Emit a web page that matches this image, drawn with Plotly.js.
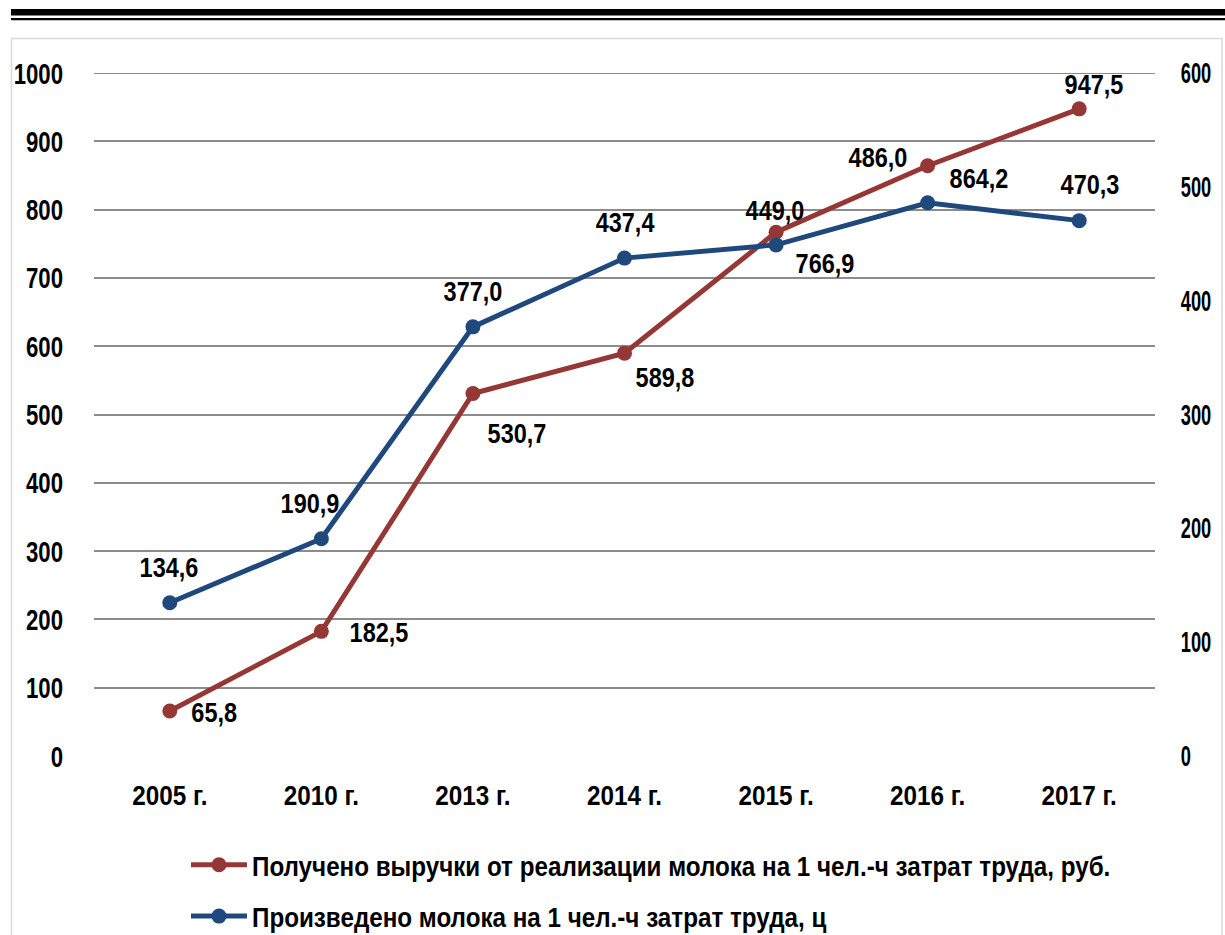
<!DOCTYPE html>
<html><head><meta charset="utf-8">
<script src="https://cdn.plot.ly/plotly-3.0.1.min.js"></script>
<style>html,body{margin:0;padding:0;background:#fff}#chart{width:1225px;height:935px}</style>
</head><body><div id="chart"></div>
<script>
const categories = ['2005 г.','2010 г.','2013 г.','2014 г.','2015 г.','2016 г.','2017 г.'];
const revenueValues = [65.8, 182.5, 530.7, 589.8, 766.9, 864.2, 947.5];
const milkValues = [134.6, 190.9, 377.0, 437.4, 449.0, 486.0, 470.3];
const revenueName = 'Получено выручки от реализации молока на 1 чел.-ч затрат труда, руб.';
const milkName = 'Произведено молока на 1 чел.-ч затрат труда, ц';
const leftTicks = [0,100,200,300,400,500,600,700,800,900,1000];
const rightTicks = [0,100,200,300,400,500,600];

const RED = '#953735', BLUE = '#1F497D';
const FONT = '"Liberation Sans", Arial, sans-serif';

// label offsets (style only): [xshift, yshift] for label centre
const redShift = [[45,-1],[58,-1],[44,-40],[40,-24],[49,-31],[51,-13],[15,24]];
const blueShift = [[-1,35],[-11,35],[0,35],[0,36],[-1,34],[-50,45],[11,36]];

const fmt = v => v.toFixed(1).replace('.', ',');
const annFont = {family:FONT, size:28, color:'#000', weight:'bold'};
const annotations = [];
categories.forEach((c,i)=>{
  annotations.push({x:c, y:revenueValues[i], xref:'x', yref:'y', text:fmt(revenueValues[i]), showarrow:false,
    xanchor:'center', yanchor:'middle', xshift:redShift[i][0], yshift:redShift[i][1], font:annFont});
  annotations.push({x:c, y:milkValues[i], xref:'x', yref:'y2', text:fmt(milkValues[i]), showarrow:false,
    xanchor:'center', yanchor:'middle', xshift:blueShift[i][0], yshift:blueShift[i][1], font:annFont});
});

const px2x = p => (p-94)/1061;
const px2y = p => (756-p)/683;

const traces = [
  {x:categories, y:revenueValues, name:revenueName, type:'scatter', mode:'lines+markers', yaxis:'y',
   line:{color:RED, width:5}, marker:{color:RED, size:15}, legendgroup:'a'},
  {x:categories, y:milkValues, name:milkName, type:'scatter', mode:'lines+markers', yaxis:'y2',
   line:{color:BLUE, width:5}, marker:{color:BLUE, size:15}, legendgroup:'b'}
];

const layout = {
  width:1225, height:935,
  margin:{l:94, r:70, t:73, b:179, autoexpand:false},
  paper_bgcolor:'#fff', plot_bgcolor:'#fff',
  font:{family:FONT, size:21, color:'#000', weight:'bold'},
  showlegend:true,
  legend:{x:px2x(186), y:px2y(840), xanchor:'left', yanchor:'top', orientation:'v',
    traceorder:'grouped', tracegroupgap:12, font:{family:FONT, size:28, color:'#000', weight:'bold'},
    bgcolor:'rgba(0,0,0,0)', itemwidth:56},
  xaxis:{type:'category', range:[-0.5,6.5], showgrid:false, zeroline:false, showline:false,
    ticks:'outside', ticklen:16, tickcolor:'rgba(0,0,0,0)',
    tickfont:{family:FONT, size:27, color:'#000', weight:'bold'}},
  yaxis:{range:[0,1000], tickvals:leftTicks, showgrid:true, gridcolor:'#8c8c8c', gridwidth:2,
    zeroline:false, showline:false, ticks:'outside', ticklen:24, tickcolor:'rgba(0,0,0,0)',
    tickfont:{family:FONT, size:30, color:'#000', weight:'bold'}},
  yaxis2:{range:[0,600], tickvals:rightTicks, overlaying:'y', side:'right', showgrid:false,
    zeroline:false, showline:false, ticks:'outside', ticklen:19, tickcolor:'rgba(0,0,0,0)',
    tickfont:{family:FONT, size:29, color:'#000', weight:'bold'}},
  annotations:annotations,
  shapes:[
    {type:'rect', xref:'paper', yref:'paper', x0:px2x(11.5), x1:px2x(1222), y0:px2y(945), y1:px2y(38.5),
     line:{color:'#d9d9d9', width:1.5}, fillcolor:'rgba(0,0,0,0)', layer:'below'},
    {type:'line', xref:'paper', yref:'y', x0:0, x1:1, y0:leftTicks[leftTicks.length-1], y1:leftTicks[leftTicks.length-1],
     line:{color:'#8c8c8c', width:2}, layer:'below'},
    {type:'line', xref:'paper', yref:'paper', x0:px2x(11), x1:px2x(1230), y0:px2y(12.3), y1:px2y(12.3),
     line:{color:'#000', width:6.5}},
    {type:'line', xref:'paper', yref:'paper', x0:px2x(11), x1:px2x(1230), y0:px2y(19.2), y1:px2y(19.2),
     line:{color:'#000', width:2.3}}
  ]
};

// horizontally condense text to imitate a narrow typeface
function condense(selector, k){
  document.querySelectorAll('#chart ' + selector).forEach(el=>{
    const bb = el.getBBox();
    const anchor = (el.getAttribute('text-anchor') || getComputedStyle(el).textAnchor || 'start');
    let ax = bb.x;
    if(anchor === 'middle') ax = bb.x + bb.width/2;
    else if(anchor === 'end') ax = bb.x + bb.width;
    const t = el.getAttribute('transform') || '';
    el.setAttribute('transform', t + ` translate(${ax},0) scale(${k},1) translate(${-ax},0)`);
  });
}
Plotly.newPlot('chart', traces, layout, {displayModeBar:false, staticPlot:true}).then(()=>{
  condense('.xtick text', 0.90);
  condense('.ytick text', 0.74);
  condense('.y2tick text', 0.63);
  condense('.annotation-text', 0.84);
  condense('.legendtext', 0.865);
});
</script></body></html>
